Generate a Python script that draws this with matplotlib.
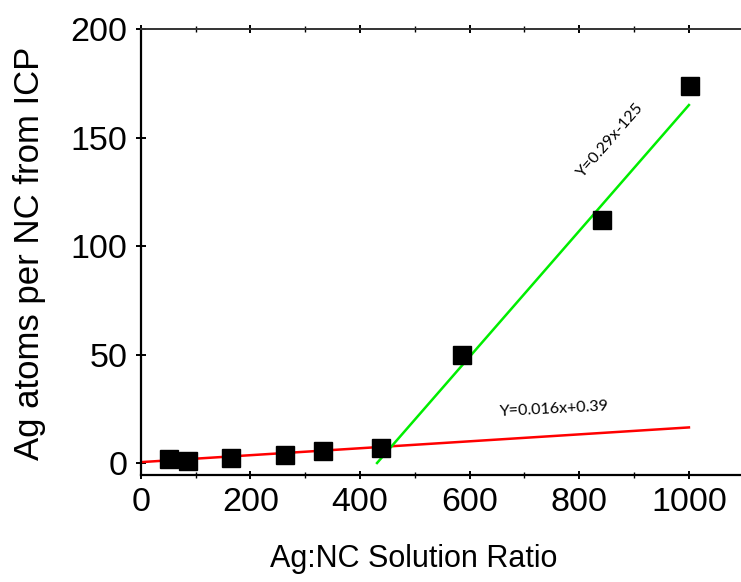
import numpy as np
import matplotlib.pyplot as plt
from matplotlib.ticker import MultipleLocator

# ratio vs Ag atoms per NC
ratio = [51, 86, 164, 263, 332, 438, 586, 841, 1002]
atoms = [1.8, 1.0, 2.3, 3.7, 5.5, 6.9, 49.8, 112, 174]

# linear fits
low_x = [0, 1000]
high_x = [431, 1000]
low_fit = (0.016, 0.39)
high_fit = (0.29, -125)

plt.rcParams['font.family'] = ['Liberation Sans', 'DejaVu Sans']

fig = plt.figure(figsize=(7.41, 5.82), dpi=100)
ax = fig.add_axes([0.190, 0.184, 0.810, 0.766])

ax.plot(ratio, atoms, 's', color='black', markersize=12.5, zorder=3)
lx = np.array(low_x)
ax.plot(lx, low_fit[0] * lx + low_fit[1], color='#ff0000', lw=1.8, zorder=2)
hx = np.array(high_x)
ax.plot(hx, high_fit[0] * hx + high_fit[1], color='#00ee00', lw=1.8, zorder=2)

ax.text(857, 149, 'Y=0.29x-125', rotation=49, ha='center', va='center',
        fontsize=11.5, family=['Lato', 'DejaVu Sans'])
ax.text(755, 25, 'Y=0.016x+0.39', rotation=3, ha='center', va='center',
        fontsize=11.5, family=['Lato', 'DejaVu Sans'])

ax.set_xlim(0, 1095)
ax.set_ylim(-5.5, 200)
ax.xaxis.set_major_locator(MultipleLocator(200))
ax.xaxis.set_minor_locator(MultipleLocator(100))
ax.yaxis.set_major_locator(MultipleLocator(50))

ax.spines['right'].set_visible(False)
for s in ['left', 'bottom']:
    ax.spines[s].set_linewidth(1.6)
ax.spines['top'].set_linewidth(1.4)
ax.spines['top'].set_color('#333333')

ax.tick_params(axis='both', which='major', direction='out', length=7, width=1.4,
               labelsize=24.5, pad=6)
ax.tick_params(axis='x', which='minor', direction='in', length=4, width=1.0)
ax.tick_params(top=True, which='both', direction='inout', labeltop=False)
ax.tick_params(axis='x', which='major', top=True, length=6)

ax.set_xlabel('Ag:NC Solution Ratio', fontsize=22)
ax.set_ylabel('Ag atoms per NC from ICP', fontsize=25)
ax.xaxis.set_label_coords(0.455, -0.155)
ax.yaxis.set_label_coords(-0.158, 0.497)

fig.savefig('out.png', dpi=100)
